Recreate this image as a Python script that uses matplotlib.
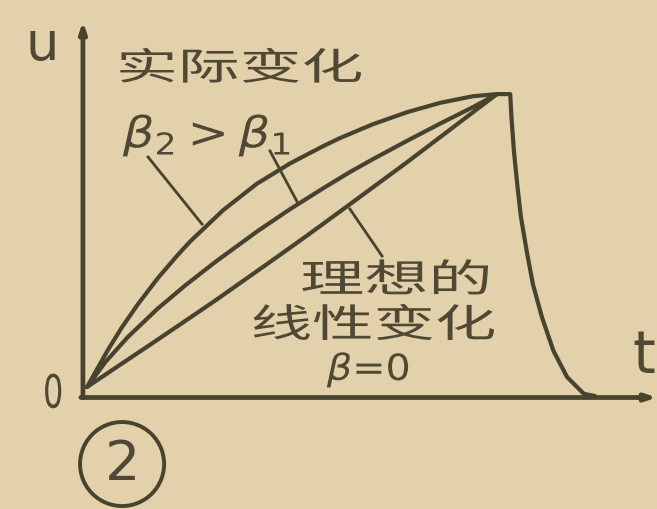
import matplotlib
matplotlib.use("Agg")
import matplotlib.pyplot as plt
from matplotlib.patches import Ellipse
from matplotlib.patheffects import AbstractPathEffect
from matplotlib.transforms import Affine2D

plt.rcParams['font.family'] = ['Noto Sans CJK SC', 'DejaVu Sans']
plt.rcParams['mathtext.fontset'] = 'dejavusans'

# rising part: actual change (beta2 > beta1) and ideal linear change (beta = 0)
t_beta2 = [0.05, 0.56, 0.90, 1.29, 1.77, 2.26, 2.55, 3.35, 4.17, 4.98, 5.78, 6.19,
           6.99, 7.82, 8.62, 9.42, 10.0]
u_beta2 = [0.30, 1.54, 2.29, 3.06, 3.92, 4.70, 5.13, 6.17, 7.05, 7.73, 8.30, 8.57,
           9.03, 9.43, 9.74, 9.96, 10.03]

t_beta1 = [0.05, 0.49, 1.04, 1.77, 2.43, 3.16, 4.17, 4.98, 5.78, 6.43, 6.99,
           7.82, 8.62, 9.42, 10.0]
u_beta1 = [0.30, 1.12, 1.96, 2.91, 3.67, 4.45, 5.46, 6.21, 6.90, 7.44, 7.87,
           8.48, 9.05, 9.60, 10.03]

t_linear = [0.05, 0.80, 1.63, 2.43, 3.16, 4.56, 5.39, 6.43, 7.82, 8.62, 9.42, 10.0]
u_linear = [0.30, 0.99, 1.75, 2.49, 3.17, 4.52, 5.33, 6.37, 7.77, 8.60, 9.43, 10.03]

# fall after the peak
t_fall = [10.0, 10.32, 10.35, 10.41, 10.49, 10.58, 10.72, 10.87, 11.09, 11.37, 11.70,
          12.11, 12.38]
u_fall = [10.03, 10.03, 9.27, 8.14, 7.04, 5.95, 4.82, 3.72, 2.62, 1.50, 0.63,
          0.07, 0.0]

ink = '#47432f'
text_ink = '#4e4834'
paper = '#e2d1ab'


class Stretch(AbstractPathEffect):
    """Widen glyphs horizontally, anchored at the text origin."""

    def __init__(self, sx=1.0, sy=1.0):
        super().__init__()
        self.sx = sx
        self.sy = sy

    def draw_path(self, renderer, gc, tpath, affine, rgbFace=None):
        renderer.draw_path(gc, tpath, Affine2D().scale(self.sx, self.sy) + affine, rgbFace)


fig = plt.figure(figsize=(6.57, 5.10), dpi=100, facecolor=paper)
ax = fig.add_axes([0, 0, 1, 1])
ax.set_facecolor(paper)
ax.set_xlim(-2.063, 13.883)
ax.set_ylim(-3.754, 13.189)
ax.axis('off')

# axes with arrows
arrow = dict(arrowstyle='-|>,head_length=0.6,head_width=0.2',
             color=ink, lw=3.4, shrinkA=0, shrinkB=0)
ax.annotate('', xy=(-0.05, 12.45), xytext=(-0.05, -0.05), arrowprops=arrow,
            annotation_clip=False)
ax.annotate('', xy=(13.88, -0.05), xytext=(-0.1, -0.05), arrowprops=arrow,
            annotation_clip=False)

kw = dict(color=ink, lw=3.0, solid_joinstyle='round', solid_capstyle='round')
ax.plot(t_beta2, u_beta2, **kw)
ax.plot(t_beta1, u_beta1, **kw)
ax.plot(t_linear, u_linear, **kw)
ax.plot(t_fall, u_fall, **kw)

# leader lines from the labels
lkw = dict(color=ink, lw=2.0)
ax.plot([1.53, 2.84], [7.94, 5.71], **lkw)
ax.plot([4.49, 5.15], [8.14, 6.45], **lkw)
ax.plot([6.43, 7.21], [6.21, 4.65], **lkw)

cjk = dict(color=text_ink, ha='left', va='center', fontweight='medium')
ax.text(0.75, 10.86, '实际变化', fontsize=27, path_effects=[Stretch(1.65)], **cjk)
ax.text(5.22, 3.82, '理想的', fontsize=28, path_effects=[Stretch(1.65)], **cjk)
ax.text(4.02, 2.33, '线性变化', fontsize=28, path_effects=[Stretch(1.58)], **cjk)

ax.text(0.92, 8.65, r'$\beta_2 > \beta_1$', fontsize=31, color=text_ink, ha='left',
        va='center', path_effects=[Stretch(1.15)])
ax.text(5.87, 0.86, r'$\beta$=0', fontsize=26, color=text_ink, ha='left', va='center',
        family=['DejaVu Sans'], path_effects=[Stretch(1.1)])

ax.text(-1.02, 0.03, '0', fontsize=33, color=text_ink, ha='left', va='center',
        family=['DejaVu Sans'], path_effects=[Stretch(0.7)])
ax.text(-1.456, 11.69, 'u', fontsize=38, color=text_ink, ha='left', va='center',
        family=['DejaVu Sans'])
ax.text(13.28, 1.33, 't', fontsize=42, color=text_ink, ha='left', va='center',
        family=['DejaVu Sans'])

# circled figure number
ax.add_patch(Ellipse((0.90, -2.26), 2.04, 2.79, fill=False, edgecolor=ink, lw=2.8))
ax.text(0.90, -2.26, '2', fontsize=40, color=text_ink, ha='center', va='center',
        family=['DejaVu Sans'])

fig.savefig('out.png', dpi=100, facecolor=paper)
